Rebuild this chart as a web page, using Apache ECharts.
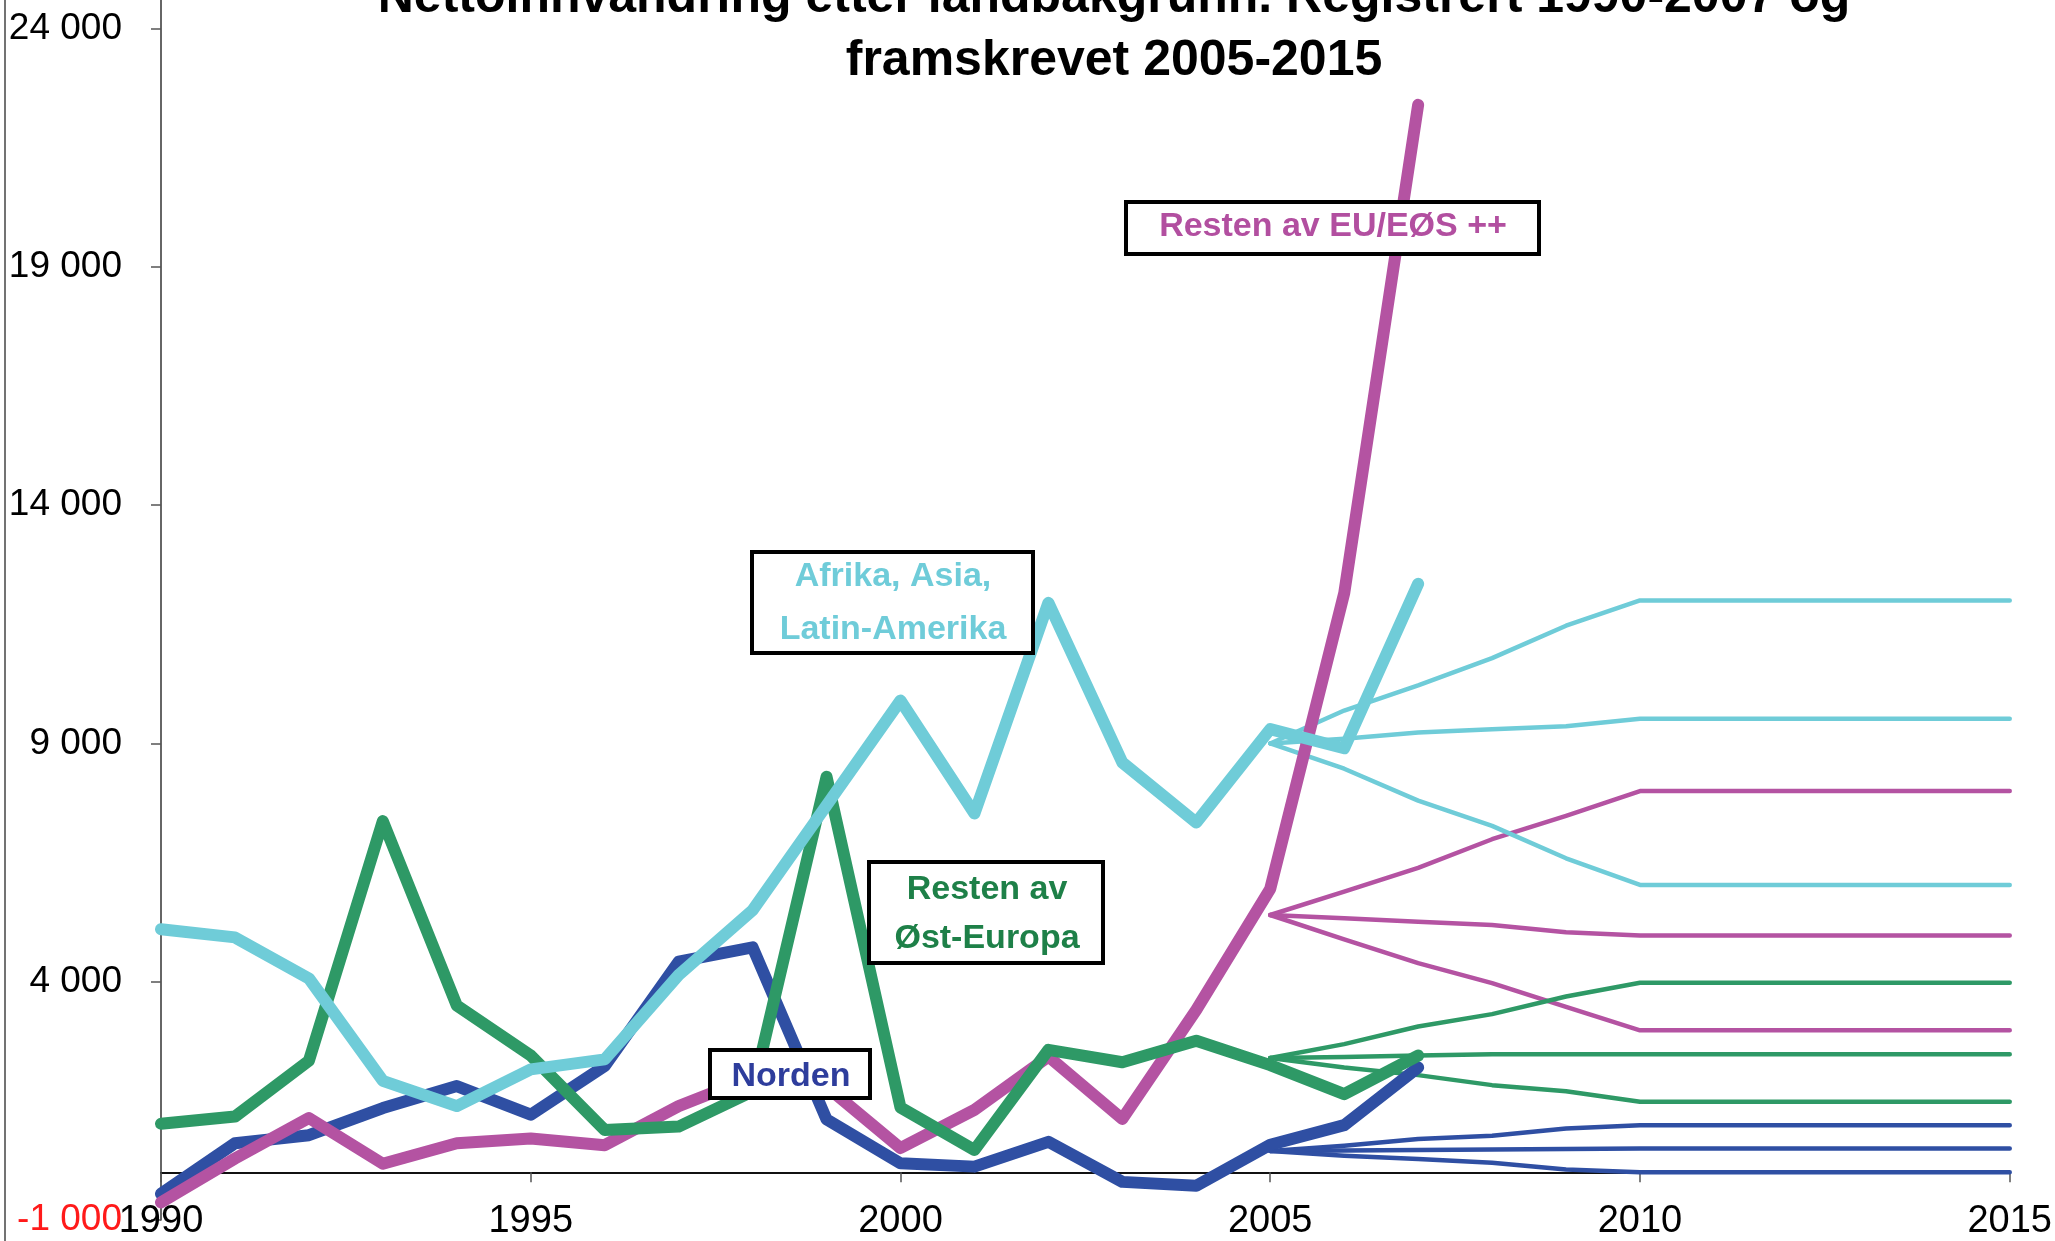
<!DOCTYPE html>
<html>
<head>
<meta charset="utf-8">
<title>Nettoinnvandring etter landbakgrunn</title>
<script src="https://cdn.jsdelivr.net/npm/echarts@6/dist/echarts.min.js"></script>
<style>
  html, body { margin: 0; padding: 0; background: #fff; }
  #chart { width: 2055px; height: 1241px; }
</style>
</head>
<body>
<div id="chart"></div>
<script>
// Registered years and values
const years = [1990, 1991, 1992, 1993, 1994, 1995, 1996, 1997, 1998, 1999,
               2000, 2001, 2002, 2003, 2004, 2005, 2006, 2007];
const norden     = [-450, 610, 780, 1350, 1810, 1210, 2230, 4420, 4720, 1110,
                    190, 120, 640, -200, -280, 580, 990, 2200];
const restenEU   = [-630, 290, 1140, 180, 610, 710, 570, 1390, 2000, 1800,
                    510, 1310, 2430, 1120, 3410, 5950, 12150, 22400];
const ostEuropa  = [1020, 1170, 2340, 7370, 3500, 2450, 890, 960, 1700, 8300,
                    1360, 470, 2570, 2310, 2760, 2250, 1640, 2450];
const afrikaAsia = [5100, 4930, 4070, 1920, 1390, 2160, 2370, 4140, 5500, 7700,
                    9900, 7530, 11950, 8600, 7340, 9300, 8900, 12350];

// Projections 2005-2015 (high, middle, low alternative)
const projYears = [2005, 2006, 2007, 2008, 2009, 2010, 2011, 2012, 2013, 2014, 2015];
const afrikaHigh = [9000, 9690, 10220, 10790, 11470, 12000, 12000, 12000, 12000, 12000, 12000];
const afrikaMid  = [9000, 9100, 9230, 9300, 9360, 9520, 9520, 9520, 9520, 9520, 9520];
const afrikaLow  = [9000, 8470, 7800, 7270, 6590, 6030, 6030, 6030, 6030, 6030, 6030];
const euHigh     = [5400, 5890, 6390, 6990, 7480, 8000, 8000, 8000, 8000, 8000, 8000];
const euMid      = [5400, 5330, 5260, 5190, 5040, 4970, 4970, 4970, 4970, 4970, 4970];
const euLow      = [5400, 4890, 4390, 3970, 3470, 2980, 2980, 2980, 2980, 2980, 2980];
const ostHigh    = [2400, 2690, 3060, 3320, 3690, 3980, 3980, 3980, 3980, 3980, 3980];
const ostMid     = [2400, 2420, 2450, 2480, 2480, 2480, 2480, 2480, 2480, 2480, 2480];
const ostLow     = [2400, 2200, 2040, 1830, 1700, 1480, 1480, 1480, 1480, 1480, 1480];
const nordenHigh = [450, 560, 700, 770, 920, 990, 990, 990, 990, 990, 990];
const nordenMid  = [450, 460, 470, 480, 490, 500, 500, 500, 500, 500, 500];
const nordenLow  = [450, 350, 280, 200, 60, 0, 0, 0, 0, 0, 0];

const colBlue = '#2f4fa3';
const colMagenta = '#b453a2';
const colGreen = '#2e9966';
const colCyan = '#6fccd8';

function pairs(xs, ys) {
    return xs.map((x, i) => [x, ys[i]]);
}

function thick(name, data, color, z) {
    return {
        name: name, type: 'line', data: pairs(years, data), symbol: 'none', z: z,
        lineStyle: { color: color, width: 12, cap: 'round', join: 'round' }
    };
}

function thin(name, data, color) {
    return {
        name: name, type: 'line', data: pairs(projYears, data), symbol: 'none', z: 3,
        lineStyle: { color: color, width: 4.5, cap: 'round', join: 'round' }
    };
}

// "24 000" style labels
function fmt(v) {
    if ((v + 1000) % 5000 !== 0) return '';
    return String(v).replace(/\B(?=(\d{3})+(?!\d))/g, ' ');
}

const labelFont = 'bold 34px "Liberation Sans", Arial, sans-serif';

const chart = echarts.init(document.getElementById('chart'));

const option = {
    animation: false,
    backgroundColor: '#fff',
    title: {
        text: 'Nettoinnvandring etter landbakgrunn. Registrert 1990-2007 og\nframskrevet 2005-2015',
        left: 1114,
        top: -33,
        textAlign: 'center',
        padding: 0,
        textStyle: {
            fontFamily: 'Liberation Sans', fontWeight: 'bold',
            fontSize: 50, lineHeight: 63, color: '#000'
        }
    },
    grid: { left: 161, right: 44, top: 0, bottom: 20 },
    xAxis: [
        {
            // labels along the bottom
            type: 'value', min: 1990, max: 2015, interval: 5,
            position: 'bottom',
            axisLine: { show: false, onZero: false },
            axisTick: { show: false },
            splitLine: { show: false },
            axisLabel: {
                fontFamily: 'Liberation Sans', fontSize: 38, color: '#000',
                margin: 2, verticalAlign: 'middle',
                formatter: v => String(v)
            }
        },
        {
            // the zero line with its ticks
            type: 'value', min: 1990, max: 2015, interval: 5,
            position: 'bottom',
            axisLine: { onZero: true, lineStyle: { color: '#111', width: 2 } },
            axisTick: { length: 10, lineStyle: { color: '#555', width: 1.5 } },
            axisLabel: { show: false },
            splitLine: { show: false }
        }
    ],
    yAxis: {
        type: 'value', min: -1000, max: 24600, interval: 5000,
        axisLine: { show: true, onZero: false, lineStyle: { color: '#333', width: 1.5 } },
        axisTick: { show: true, length: 10, lineStyle: { color: '#555', width: 1.5 } },
        splitLine: { show: false },
        axisLabel: {
            showMaxLabel: false,
            fontFamily: 'Liberation Sans', fontSize: 37, margin: 39,
            formatter: fmt,
            color: v => (v < 0 ? '#ff1a1a' : '#000')
        }
    },
    series: [
        thick('Norden', norden, colBlue, 4),
        thick('Resten av EU/EØS ++', restenEU, colMagenta, 5),
        thin('Norden høy', nordenHigh, colBlue),
        thin('Norden middels', nordenMid, colBlue),
        thin('Norden lav', nordenLow, colBlue),
        thin('EU høy', euHigh, colMagenta),
        thin('EU middels', euMid, colMagenta),
        thin('EU lav', euLow, colMagenta),
        thin('Øst høy', ostHigh, colGreen),
        thin('Øst middels', ostMid, colGreen),
        thin('Øst lav', ostLow, colGreen),
        thin('Afrika høy', afrikaHigh, colCyan),
        thin('Afrika middels', afrikaMid, colCyan),
        thin('Afrika lav', afrikaLow, colCyan),
        thick('Resten av Øst-Europa', ostEuropa, colGreen, 6),
        thick('Afrika, Asia, Latin-Amerika', afrikaAsia, colCyan, 7)
    ],
    graphic: [
        // frame edge on the left
        { type: 'line', z: 100, shape: { x1: 5, y1: 0, x2: 5, y2: 1241 }, style: { stroke: '#444', lineWidth: 1.5 } },

        // series labels in boxes
        { type: 'rect', z: 100, shape: { x: 1126, y: 202, width: 413, height: 52 },
          style: { fill: '#fff', stroke: '#000', lineWidth: 4 } },
        { type: 'text', z: 101, x: 1333, y: 227,
          style: { text: 'Resten av EU/EØS ++', font: labelFont, fill: '#b24fa0', align: 'center', verticalAlign: 'middle' } },

        { type: 'rect', z: 100, shape: { x: 752, y: 552, width: 281, height: 101 },
          style: { fill: '#fff', stroke: '#000', lineWidth: 4 } },
        { type: 'text', z: 101, x: 893, y: 577,
          style: { text: 'Afrika, Asia,', font: labelFont, fill: '#6fccd9', align: 'center', verticalAlign: 'middle' } },
        { type: 'text', z: 101, x: 893, y: 630,
          style: { text: 'Latin-Amerika', font: labelFont, fill: '#6fccd9', align: 'center', verticalAlign: 'middle' } },

        { type: 'rect', z: 100, shape: { x: 869, y: 862, width: 234, height: 101 },
          style: { fill: '#fff', stroke: '#000', lineWidth: 4 } },
        { type: 'text', z: 101, x: 987, y: 890,
          style: { text: 'Resten av', font: labelFont, fill: '#1e8048', align: 'center', verticalAlign: 'middle' } },
        { type: 'text', z: 101, x: 987, y: 939,
          style: { text: 'Øst-Europa', font: labelFont, fill: '#1e8048', align: 'center', verticalAlign: 'middle' } },

        { type: 'rect', z: 100, shape: { x: 710, y: 1050, width: 160, height: 48 },
          style: { fill: '#fff', stroke: '#000', lineWidth: 4 } },
        { type: 'text', z: 101, x: 791, y: 1077,
          style: { text: 'Norden', font: labelFont, fill: '#2e3d9c', align: 'center', verticalAlign: 'middle' } }
    ]
};

chart.setOption(option);
</script>
</body>
</html>
